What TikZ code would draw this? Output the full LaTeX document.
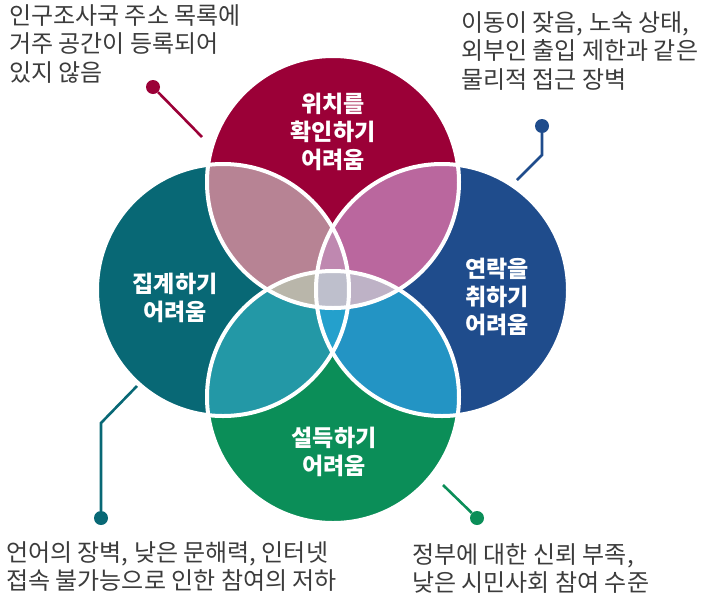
\documentclass[tikz,border=0pt]{standalone}
\usepackage{fontspec}
\setmainfont{Noto Sans CJK KR}
\definecolor{colT}{HTML}{9B0037}
\definecolor{colL}{HTML}{086875}
\definecolor{colR}{HTML}{1F4C8C}
\definecolor{colB}{HTML}{0B8E58}
\definecolor{colTL}{HTML}{B78394}
\definecolor{colTR}{HTML}{BA679E}
\definecolor{colLB}{HTML}{2398A6}
\definecolor{colRB}{HTML}{2394C4}
\definecolor{colTLR}{HTML}{BF88B0}
\definecolor{colLRB}{HTML}{24A0CC}
\definecolor{colTBL}{HTML}{B9B6AA}
\definecolor{colTBR}{HTML}{BEB2C6}
\definecolor{colAll}{HTML}{BEBFCC}
\definecolor{textgray}{HTML}{3C3C3C}
\begin{document}
\begin{tikzpicture}[x=1pt,y=-1pt,
  lbl/.style={text=white, font=\fontsize{23}{28}\selectfont\bfseries, align=center, inner sep=0},
  note/.style={text=textgray, font=\fontsize{24}{28.7}\selectfont, align=left, inner sep=0, anchor=north west},
  conn/.style={line width=2.6pt},
  dotn/.style={circle, inner sep=0, minimum size=14pt},
  ring/.style={draw=white, line width=4pt}]
\useasboundingbox (0,0) rectangle (705,598);
\def\rr{126pt}
\coordinate (cT) at (333,182);
\coordinate (cB) at (333,397);
\coordinate (cL) at (223,290);
\coordinate (cR) at (442,290);
% base circles
\fill[colT] (cT) circle[radius=\rr];
\fill[colL] (cL) circle[radius=\rr];
\fill[colR] (cR) circle[radius=\rr];
\fill[colB] (cB) circle[radius=\rr];
% pairs
\begin{scope}\clip (cT) circle[radius=\rr]; \fill[colTL] (cL) circle[radius=\rr];\end{scope}
\begin{scope}\clip (cT) circle[radius=\rr]; \fill[colTR] (cR) circle[radius=\rr];\end{scope}
\begin{scope}\clip (cB) circle[radius=\rr]; \fill[colLB] (cL) circle[radius=\rr];\end{scope}
\begin{scope}\clip (cB) circle[radius=\rr]; \fill[colRB] (cR) circle[radius=\rr];\end{scope}
% triples
\begin{scope}\clip (cT) circle[radius=\rr]; \clip (cL) circle[radius=\rr]; \fill[colTLR] (cR) circle[radius=\rr];\end{scope}
\begin{scope}\clip (cB) circle[radius=\rr]; \clip (cL) circle[radius=\rr]; \fill[colLRB] (cR) circle[radius=\rr];\end{scope}
\begin{scope}\clip (cT) circle[radius=\rr]; \clip (cB) circle[radius=\rr]; \fill[colTBL] (cL) circle[radius=\rr];\end{scope}
\begin{scope}\clip (cT) circle[radius=\rr]; \clip (cB) circle[radius=\rr]; \fill[colTBR] (cR) circle[radius=\rr];\end{scope}
% all four
\begin{scope}\clip (cT) circle[radius=\rr]; \clip (cB) circle[radius=\rr]; \clip (cL) circle[radius=\rr]; \fill[colAll] (cR) circle[radius=\rr];\end{scope}
% white rings
\draw[ring] (cT) circle[radius=\rr];
\draw[ring] (cL) circle[radius=\rr];
\draw[ring] (cR) circle[radius=\rr];
\draw[ring] (cB) circle[radius=\rr];
% circle labels
\node[lbl] (lT) at (333,132) {위치를\\확인하기\\어려움};
\node[lbl] (lL) at (175,298) {집계하기\\어려움};
\node[lbl] (lR) at (497,297) {연락을\\취하기\\어려움};
\node[lbl] (lB) at (334,452) {설득하기\\어려움};
% connectors
\node[dotn, fill=colT] (d1) at (153,87) {};
\coordinate (e1) at (202,137);
\draw[conn, colT] (d1) -- (e1);
\node[dotn, fill=colR] (d2) at (542,126) {};
\coordinate (k2) at (542,155);
\coordinate (e2) at (517,180);
\draw[conn, colR] (d2) -- (k2) -- (e2);
\node[dotn, fill=colL] (d3) at (101,518) {};
\coordinate (k3) at (101,423);
\coordinate (e3) at (137,386);
\draw[conn, colL] (d3) -- (k3) -- (e3);
\node[dotn, fill=colB] (d4) at (477,518) {};
\coordinate (e4) at (443,485);
\draw[conn, colB] (d4) -- (e4);
% notes
\node[note] (n1) at (9,4) {인구조사국 주소 목록에\\거주 공간이 등록되어\\있지 않음};
\node[note] (n2) at (461,11) {이동이 잦음, 노숙 상태,\\외부인 출입 제한과 같은\\물리적 접근 장벽};
\node[note] (n3) at (6,541) {언어의 장벽, 낮은 문해력, 인터넷\\접속 불가능으로 인한 참여의 저하};
\node[note] (n4) at (412,543) {정부에 대한 신뢰 부족,\\낮은 시민사회 참여 수준};
\end{tikzpicture}
\end{document}
